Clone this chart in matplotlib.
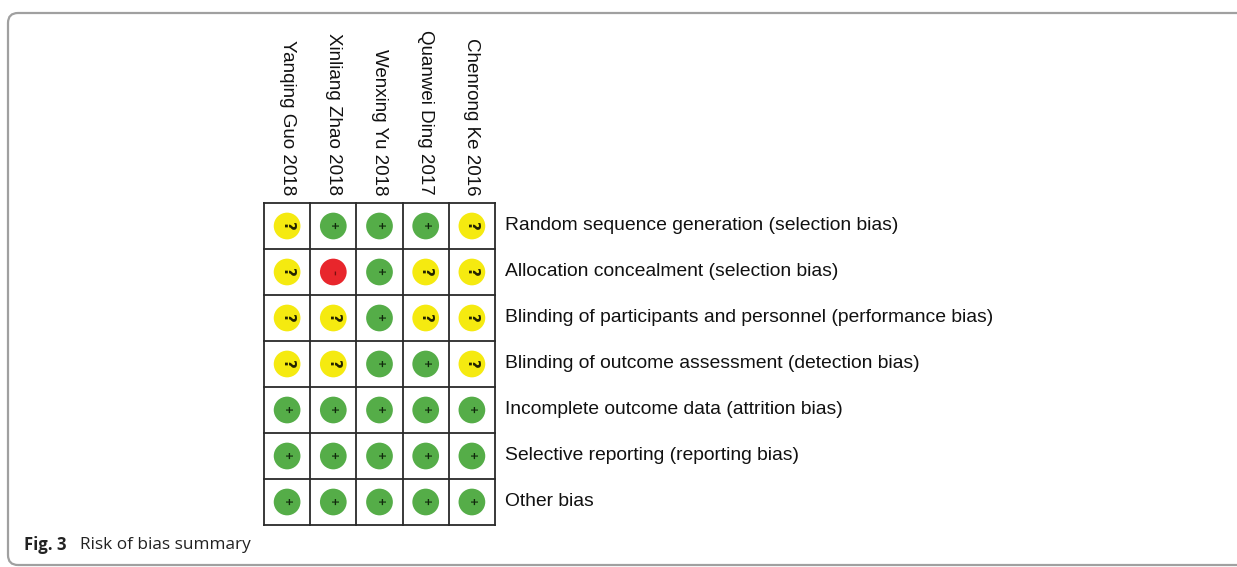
import matplotlib
matplotlib.use("Agg")
import matplotlib.pyplot as plt
from matplotlib.patches import FancyBboxPatch
from matplotlib.transforms import IdentityTransform

studies = ["Yanqing Guo 2018", "Xinliang Zhao 2018", "Wenxing Yu 2018",
           "Quanwei Ding 2017", "Chenrong Ke 2016"]
domains = ["Random sequence generation (selection bias)",
           "Allocation concealment (selection bias)",
           "Blinding of participants and personnel (performance bias)",
           "Blinding of outcome assessment (detection bias)",
           "Incomplete outcome data (attrition bias)",
           "Selective reporting (reporting bias)",
           "Other bias"]
# one row per domain, one entry per study
judgements = [
    ["?", "+", "+", "+", "?"],
    ["?", "-", "+", "?", "?"],
    ["?", "?", "+", "?", "?"],
    ["?", "?", "+", "+", "?"],
    ["+", "+", "+", "+", "+"],
    ["+", "+", "+", "+", "+"],
    ["+", "+", "+", "+", "+"],
]

colors = {"+": "#55ad48", "?": "#f5ea10", "-": "#e8262c"}
glyph = {"+": ("+", 7, "#10280c"), "?": ("?", 11, "#222200"), "-": ("–", 7, "#7a1010")}

W, H = 1237, 567
fig = plt.figure(figsize=(W / 100, H / 100), dpi=100)

# grid in pixel terms: left 264, top 203, right 495, bottom 525
ax = fig.add_axes([264 / W, 1 - 525 / H, 231 / W, 322 / H])
ax.set_xlim(0, len(studies))
ax.set_ylim(len(domains), 0)
ax.axis("off")

for i in range(len(domains) + 1):
    ax.plot([0, len(studies)], [i, i], color="#2a2a2a", lw=1.3, clip_on=False)
for j in range(len(studies) + 1):
    ax.plot([j, j], [0, len(domains)], color="#2a2a2a", lw=1.3, clip_on=False)

for i, row in enumerate(judgements):
    for j, v in enumerate(row):
        ax.scatter(j + 0.5, i + 0.5, s=370, color=colors[v], edgecolors="none", zorder=3)
        g, fs, gc = glyph[v]
        ax.text(j + 0.5, i + 0.5, g, fontsize=fs, fontweight="bold", color=gc,
                rotation=270, ha="center", va="center", zorder=4)

for j, name in enumerate(studies):
    ax.text(j + 0.5, -0.17, name, rotation=270, ha="center", va="bottom",
            fontsize=13.5, family="Liberation Sans", color="#111111", clip_on=False)

for i, d in enumerate(domains):
    ax.text(len(studies) + 0.22, i + 0.5, d, ha="left", va="center",
            fontsize=13.9, family="Liberation Sans", color="#111111", clip_on=False)

# caption
fig.text(24 / W, 1 - 545 / H, "Fig. 3", fontsize=12, fontweight="bold",
         family="Open Sans", va="center", ha="left", color="#222222")
fig.text(80 / W, 1 - 545 / H, "Risk of bias summary", fontsize=12.4,
         family="Open Sans", va="center", ha="left", color="#222222")

# page frame with rounded corner at top left
frame = FancyBboxPatch((8, 2), 1300, H - 13 - 2,
                       boxstyle="round,pad=0,rounding_size=10",
                       transform=IdentityTransform(), fill=False,
                       ec="#a0a0a0", lw=1.6)
fig.add_artist(frame)

fig.savefig("out.png", dpi=100)
